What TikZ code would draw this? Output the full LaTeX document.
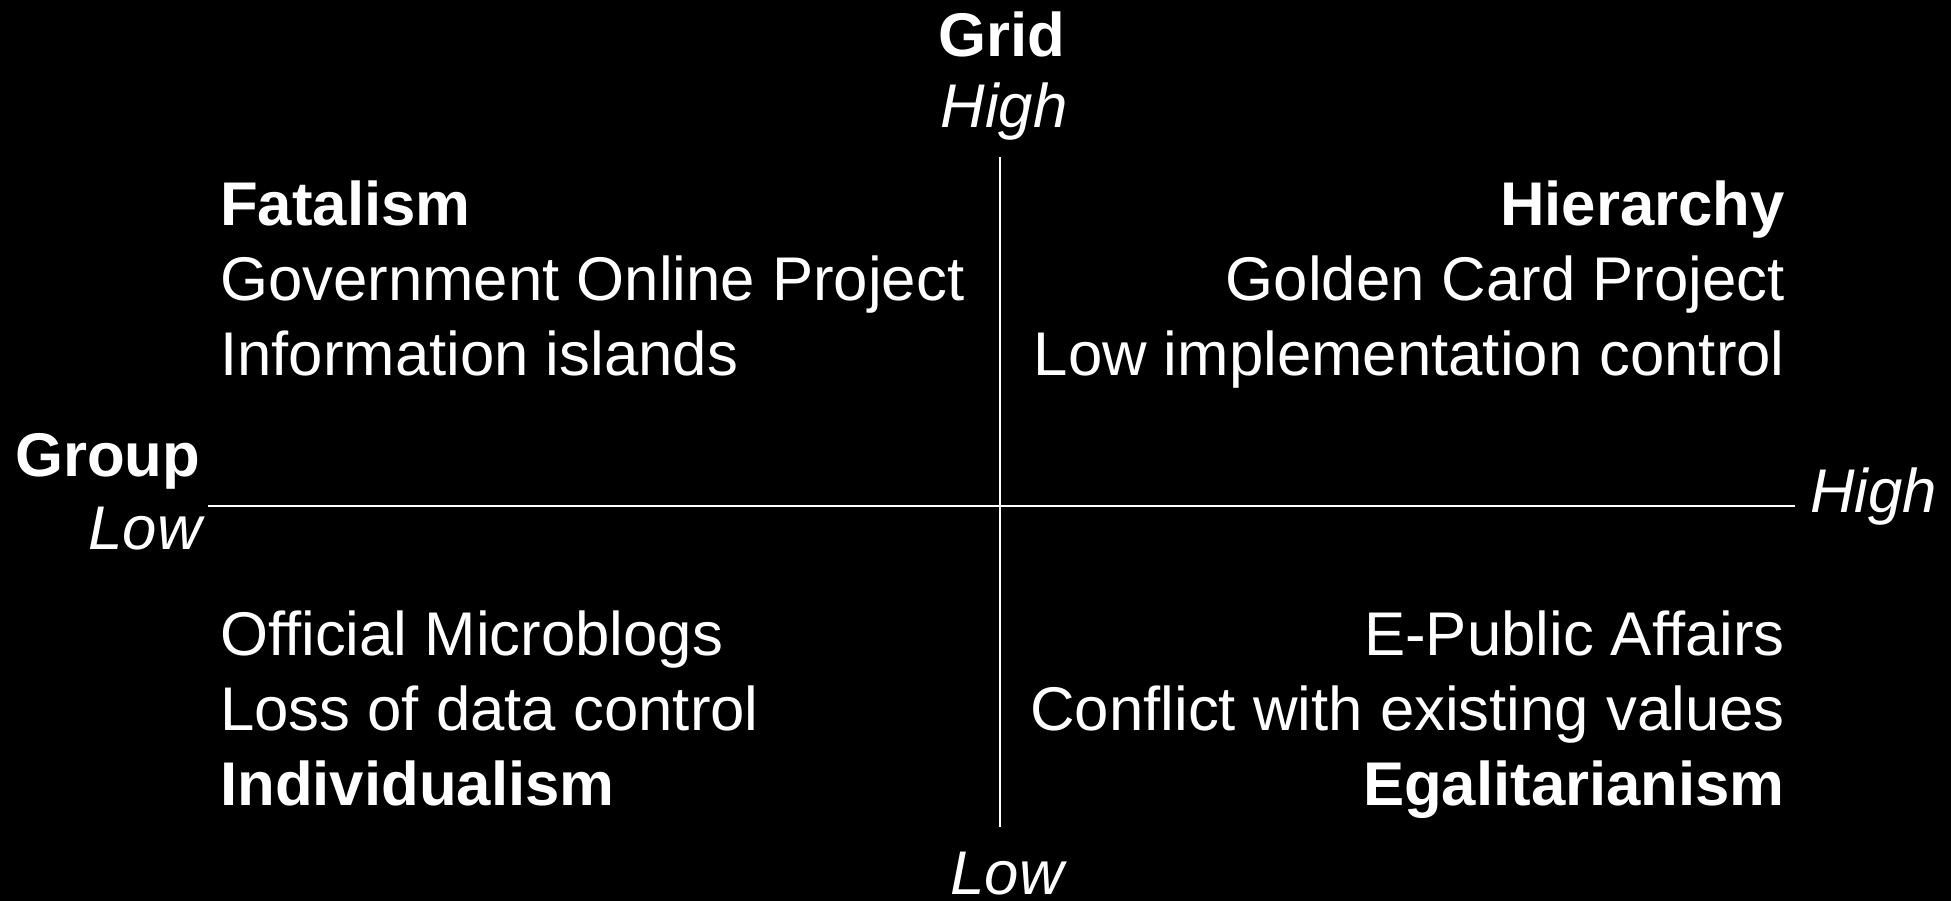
\documentclass[tikz,border=0pt]{standalone}
\usepackage{fontspec}
\setmainfont{Liberation Sans}
\begin{document}
\begin{tikzpicture}[x=1pt,y=1pt,
  lbl/.style={text=white,inner sep=0pt,font=\fontsize{61.7}{74}\selectfont},
  bld/.style={lbl,font=\fontsize{61.7}{74}\selectfont\bfseries},
  itl/.style={lbl,font=\fontsize{61.7}{74}\selectfont\itshape},
  axis/.style={draw=white,line width=2pt}]
\fill[black] (0,0) rectangle (1951,901);
\useasboundingbox (0,0) rectangle (1951,901);
% axes
\coordinate (vtop) at (1000,744);
\coordinate (vbot) at (1000,74);
\coordinate (hleft) at (208,395);
\coordinate (hright) at (1795,395);
\draw[axis] (vtop) -- (vbot);
\draw[axis] (hleft) -- (hright);
% axis labels
\node[bld,anchor=base] (grid) at (1002,844) {Grid};
\node[itl,anchor=base] (gridhigh) at (1004,773) {High};
\node[itl,anchor=base] (gridlow) at (1007,6) {Low};
\node[bld,anchor=base west] (group) at (15,424) {Group};
\node[itl,anchor=base east] (grouplow) at (202,351) {Low};
\node[itl,anchor=base west] (grouphigh) at (1810,388) {High};
% top-left
\node[bld,anchor=base west] (fat) at (220,675) {Fatalism};
\node[lbl,anchor=base west] (gop) at (220,600) {Government Online Project};
\node[lbl,anchor=base west] (isl) at (220,525) {Information islands};
% top-right
\node[bld,anchor=base east] (hie) at (1785,675) {Hierarchy};
\node[lbl,anchor=base east] (gcp) at (1785,600) {Golden Card Project};
\node[lbl,anchor=base east] (lic) at (1785,525) {Low implementation control};
% bottom-left
\node[lbl,anchor=base west] (omb) at (220,245) {Official Microblogs};
\node[lbl,anchor=base west] (ldc) at (220,170) {Loss of data control};
\node[bld,anchor=base west] (ind) at (220,95) {Individualism};
% bottom-right
\node[lbl,anchor=base east] (epa) at (1785,245) {E-Public Affairs};
\node[lbl,anchor=base east] (cev) at (1785,170) {Conflict with existing values};
\node[bld,anchor=base east] (ega) at (1785,95) {Egalitarianism};
\end{tikzpicture}
\end{document}
